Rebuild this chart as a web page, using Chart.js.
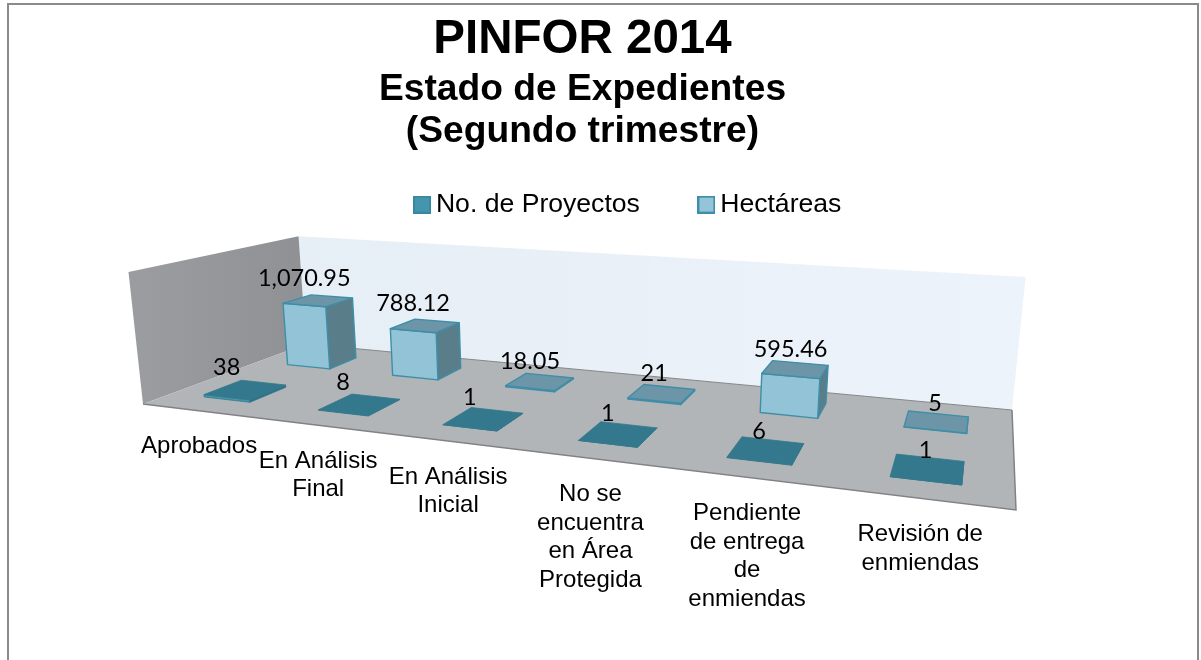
<!DOCTYPE html>
<html><head><meta charset="utf-8">
<style>html,body{margin:0;padding:0;background:#fff}canvas{display:block}</style>
<script src="https://cdn.jsdelivr.net/npm/chart.js@4"></script>
</head><body><canvas id="c" width="1201" height="660"></canvas>
<script>
const categories = ['Aprobados', ['En Análisis','Final'], ['En Análisis','Inicial'], ['No se','encuentra','en Área','Protegida'], ['Pendiente','de entrega','de','enmiendas'], ['Revisión de','enmiendas']];
const proyectos = [38, 8, 1, 1, 6, 1];
const hectareas = [1070.95, 788.12, 18.05, 21, 595.46, 5];
const proyectosLabels = ['38','8','1','1','6','1'];
const hectareasLabels = ['1,070.95','788.12','18.05','21','595.46','5'];
const titleText = 'PINFOR 2014';
const subtitleLines = ['Estado de Expedientes','(Segundo trimestre)'];
const seriesNames = ['No. de Proyectos','Hectáreas'];

// perspective of the 3-D box: floor corners and wall tops
const FL=[143,404], FR=[1016,510], BR=[1012,410], BL=[306,344];
const TOPS=[[0,0,130,272],[0,1,297,237],[1,1,1026,276]];
const den=((FR[0]-BR[0])*(BL[1]-BR[1])-(BL[0]-BR[0])*(FR[1]-BR[1]));
const sx=FL[0]-FR[0]+BR[0]-BL[0], sy=FL[1]-FR[1]+BR[1]-BL[1];
const H_g=(sx*(BL[1]-BR[1])-(BL[0]-BR[0])*sy)/den, H_h=((FR[0]-BR[0])*sy-sx*(FR[1]-BR[1]))/den;
const H_a=FR[0]-FL[0]+H_g*FR[0], H_b=BL[0]-FL[0]+H_h*BL[0], H_c=FL[0];
const H_d=FR[1]-FL[1]+H_g*FR[1], H_e=BL[1]-FL[1]+H_h*BL[1], H_f=FL[1];
function solveUp(){
  const M=[[0,0,0,0],[0,0,0,0],[0,0,0,0]];
  const add=(r,t)=>{for(let i=0;i<3;i++){for(let j=0;j<3;j++)M[i][j]+=r[i]*r[j];M[i][3]+=r[i]*t;}};
  for(const [u,v,X,Y] of TOPS){
    const d=H_g*u+H_h*v+1, nx=H_a*u+H_b*v+H_c, ny=H_d*u+H_e*v+H_f;
    add([1,0,-X],X*d-nx); add([0,1,-Y],Y*d-ny);
  }
  for(let i=0;i<3;i++){
    let p=i;for(let r=i+1;r<3;r++)if(Math.abs(M[r][i])>Math.abs(M[p][i]))p=r;
    [M[i],M[p]]=[M[p],M[i]];
    for(let r=0;r<3;r++)if(r!==i){const f=M[r][i]/M[i][i];for(let c=i;c<4;c++)M[r][c]-=f*M[i][c];}
  }
  return [M[0][3]/M[0][0],M[1][3]/M[1][1],M[2][3]/M[2][2]];
}
const UP=solveUp();
function P(u,v,w){
  const d=H_g*u+H_h*v+1+UP[2]*w;
  return [(H_a*u+H_b*v+H_c+UP[0]*w)/d,(H_d*u+H_e*v+H_f+UP[1]*w)/d];
}
function poly(ctx,pts,fill,stroke,lw){
  ctx.beginPath();pts.forEach((p,i)=>i?ctx.lineTo(p[0],p[1]):ctx.moveTo(p[0],p[1]));ctx.closePath();
  if(fill){ctx.fillStyle=fill;ctx.fill();}
  if(stroke){ctx.strokeStyle=stroke;ctx.lineWidth=lw||1;ctx.lineJoin='round';ctx.stroke();}
}
const ROWS=[[0.15,0.365],[0.66,0.855]];
const LABEL_LIFT=[30,27];
const STYLE=[
 {front:'#4495ae',top:'#33788c',side:'#2f6f82',edge:'#33788c'},
 {front:'#92c3d6',top:'#6c96a7',side:'#5a7d8a',edge:'#3f8ea8'}
];
function legendSwatch(fill,stroke){
  const c=document.createElement('canvas');c.width=18;c.height=18;
  const x=c.getContext('2d');x.fillStyle=fill;x.fillRect(1,1,16,16);x.strokeStyle=stroke;x.lineWidth=2;x.strokeRect(1,1,16,16);
  return c;
}
const swatches=[legendSwatch('#4496ae','#3b87a0'),legendSwatch('#93c4d8','#3f8ea8')];
const scene={
 id:'scene',
 afterLayout(ch){const l=ch.legend;l.left+=49;l.right+=49;l.top-=43;l.bottom-=43;},
 beforeDraw(ch){
  const ctx=ch.ctx;ctx.save();
  ctx.strokeStyle='#8a8a8a';ctx.lineWidth=2;
  ctx.beginPath();ctx.moveTo(8,660);ctx.lineTo(8,4);ctx.lineTo(1198,4);ctx.lineTo(1198,660);ctx.stroke();
  ctx.restore();
 },
 beforeDatasetsDraw(ch){
  const ctx=ch.ctx;ctx.save();
  const a=P(0,1,0),b=P(1,1,1),c=P(0,0,0),d=P(0,1,1);
  let g=ctx.createLinearGradient(a[0],0,b[0],0);g.addColorStop(0,'#e6eef6');g.addColorStop(1,'#edf3fa');
  poly(ctx,[P(0,1,0),P(1,1,0),P(1,1,1),P(0,1,1)],g);
  g=ctx.createLinearGradient(c[0],0,d[0],0);g.addColorStop(0,'#9a9c9f');g.addColorStop(1,'#8f9194');
  poly(ctx,[P(0,0,0),P(0,1,0),P(0,1,1),P(0,0,1)],g);
  poly(ctx,[P(0,0,0),P(1,0,0),P(1,1,0),P(0,1,0)],'#b2b5b8');
  ctx.strokeStyle='#808285';ctx.lineWidth=1.5;
  ctx.beginPath();const p=[P(0,0,0),P(1,0,0),P(1,1,0)];ctx.moveTo(...p[0]);ctx.lineTo(...p[1]);ctx.lineTo(...p[2]);ctx.stroke();
  ctx.strokeStyle='#85888b';ctx.lineWidth=1;
  ctx.beginPath();ctx.moveTo(...P(0,1,0));ctx.lineTo(...P(1,1,0));ctx.stroke();
  ctx.restore();
 },
 beforeDatasetDraw(ch,args){
  const ctx=ch.ctx,ar=ch.chartArea,i=args.index,s=STYLE[i],[v0,v1]=ROWS[i];
  ctx.save();
  args.meta.data.forEach(el=>{
    const u=(el.x-ar.left)/ar.width,du=el.width/2/ar.width,w=(el.base-el.y)/ar.height;
    const u0=u-du,u1=u+du;
    const e=s.edge,lw=i===0?0.8:1.4;
    poly(ctx,[P(u1,v0,0),P(u1,v1,0),P(u1,v1,w),P(u1,v0,w)],s.side,e,lw);
    poly(ctx,[P(u0,v0,0),P(u1,v0,0),P(u1,v0,w),P(u0,v0,w)],s.front,e,lw);
    poly(ctx,[P(u0,v0,w),P(u1,v0,w),P(u1,v1,w),P(u0,v1,w)],s.top,e,lw);
  });
  ctx.restore();
  return false;
 },
 afterDatasetsDraw(ch){
  const ctx=ch.ctx,ar=ch.chartArea;ctx.save();
  ctx.fillStyle='#000';ctx.textAlign='center';
  ctx.font='23.5px Lato';ctx.textBaseline='middle';
  [proyectosLabels,hectareasLabels].forEach((labels,i)=>{
    ch.getDatasetMeta(i).data.forEach((el,k)=>{
      const u=(el.x-ar.left)/ar.width,w=(el.base-el.y)/ar.height;
      const p=P(u,ROWS[i][0],w);
      ctx.fillText(labels[k],p[0],p[1]-LABEL_LIFT[i]);
    });
  });
  ctx.font='24px "Liberation Sans"';ctx.textBaseline='middle';
  categories.forEach((c,k)=>{
    const u=(ch.scales.x.getPixelForTick(k)-ar.left)/ar.width;
    const p=P(u,0,0);
    [].concat(c).forEach((line,n)=>ctx.fillText(line,p[0]-0.4*k,p[1]+36+n*28.5));
  });
  ctx.restore();
 }
};
new Chart(document.getElementById('c'),{
 type:'bar',
 data:{labels:categories,datasets:[
  {label:seriesNames[0],data:proyectos,backgroundColor:'#4496ae',borderColor:'#3b87a0',grouped:false,categoryPercentage:1,barPercentage:0.41},
  {label:seriesNames[1],data:hectareas,backgroundColor:'#93c4d8',borderColor:'#3f8ea8',grouped:false,categoryPercentage:1,barPercentage:0.41}
 ]},
 options:{
  responsive:false,animation:false,
  layout:{padding:{top:5,left:0,right:36,bottom:10}},
  scales:{x:{display:false},y:{display:false,min:0,max:2000}},
  plugins:{
   title:{display:true,text:titleText,color:'#000',font:{family:'"Liberation Sans"',size:47.5,weight:'bold',lineHeight:1.1},padding:{top:9,bottom:0}},
   subtitle:{display:true,text:subtitleLines,color:'#000',font:{family:'"Liberation Sans"',size:37.2,weight:'bold',lineHeight:1.13},padding:{top:2,bottom:16}},
   legend:{display:true,position:'top',
    labels:{usePointStyle:true,pointStyleWidth:1,color:'#000',font:{family:'"Liberation Sans"',size:26.6},padding:66,
     generateLabels:()=>seriesNames.map((n,i)=>({text:n,pointStyle:swatches[i],fillStyle:STYLE[i].front,strokeStyle:STYLE[i].edge,lineWidth:0,datasetIndex:i,fontColor:'#000'}))}},
   tooltip:{enabled:false}
  }
 },
 plugins:[scene]
});
</script></body></html>
